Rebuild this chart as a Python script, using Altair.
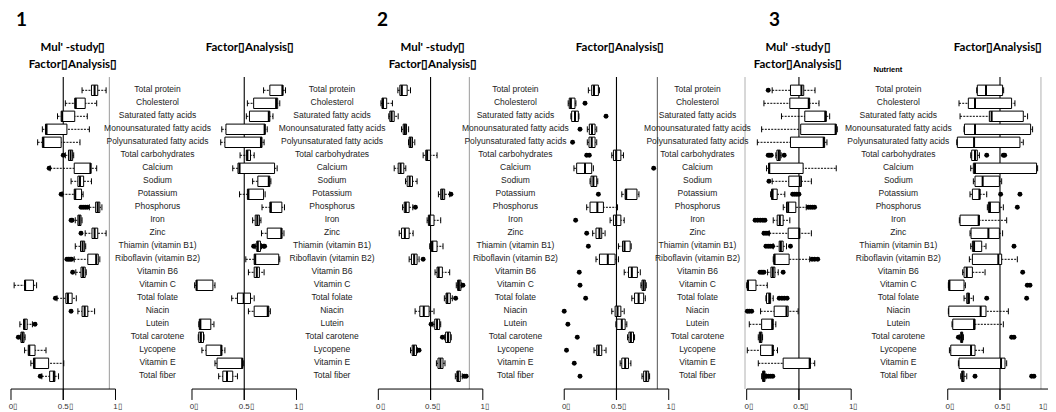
import altair as alt
import pandas as pd

NUTRIENTS = ["Total protein", "Cholesterol", "Saturated fatty acids", "Monounsaturated fatty acids",
             "Polyunsaturated fatty acids", "Total carbohydrates", "Calcium", "Sodium", "Potassium",
             "Phosphorus", "Iron", "Zinc", "Thiamin (vitamin B1)", "Riboflavin (vitamin B2)",
             "Vitamin B6", "Vitamin C", "Total folate", "Niacin", "Lutein", "Total carotene",
             "Lycopene", "Vitamin E", "Total fiber"]

BOXCH = "\u25AF"
TICK_VALUES = [0, 0.5, 1]
TICK_LABELS = ["0" + BOXCH, "0.5" + BOXCH, "1" + BOXCH]
FIG_NUMBERS = ["1", "2", "3"]
TITLE_MSFA = ["Mul' -study" + BOXCH, "Factor" + BOXCH + "Analysis" + BOXCH]
TITLE_FA = "Factor" + BOXCH + "Analysis" + BOXCH

# (lower whisker, Q1, median, Q3, upper whisker) per nutrient
p1_msfa = [(0.68, 0.77, 0.80, 0.83, 0.91), (0.52, 0.61, 0.62, 0.71, 0.82), (0.445, 0.48, 0.49, 0.61, 0.73),
           (0.30, 0.33, 0.34, 0.535, 0.75), (0.255, 0.30, 0.31, 0.48, 0.66), (0.52, 0.55, 0.57, 0.59, 0.60),
           (0.375, 0.605, 0.76, 0.765, 0.82), (0.575, 0.64, 0.66, 0.695, 0.77), (0.49, 0.605, 0.615, 0.675, 0.69),
           (0.75, 0.81, 0.83, 0.85, 0.87), (0.615, 0.64, 0.655, 0.67, 0.68), (0.71, 0.775, 0.80, 0.83, 0.91),
           (0.615, 0.665, 0.685, 0.705, 0.715), (0.605, 0.735, 0.815, 0.835, 0.85), (0.62, 0.67, 0.69, 0.71, 0.72),
           (0.03, 0.13, 0.135, 0.215, 0.245), (0.44, 0.525, 0.545, 0.585, 0.625), (0.64, 0.68, 0.705, 0.735, 0.80),
           (0.085, 0.12, 0.13, 0.155, 0.205), (0.09, 0.095, 0.11, 0.125, 0.135), (0.13, 0.165, 0.175, 0.23, 0.335),
           (0.19, 0.215, 0.225, 0.36, 0.505), (0.295, 0.37, 0.41, 0.42, 0.455)]
p1_msfa_out = {5: [0.50], 6: [0.365], 8: [0.48], 9: [0.67, 0.69, 0.71, 0.73], 10: [0.575, 0.585],
               11: [0.67], 13: [0.535, 0.55, 0.565, 0.58], 14: [0.59], 16: [0.425], 17: [0.575],
               18: [0.23], 19: [0.07], 22: [0.28]}

p1_fa = [(0.685, 0.745, 0.865, 0.87, 0.895), (0.53, 0.59, 0.805, 0.82, 0.84), (0.52, 0.55, 0.735, 0.745, 0.775),
         (0.285, 0.325, 0.695, 0.70, 0.72), (0.275, 0.315, 0.66, 0.67, 0.69), (0.46, 0.52, 0.53, 0.56, 0.595),
         (0.39, 0.44, 0.455, 0.79, 0.815), (0.58, 0.63, 0.735, 0.745, 0.755), (0.455, 0.53, 0.54, 0.685, 0.70),
         (0.67, 0.745, 0.755, 0.86, 0.885), (0.58, 0.605, 0.625, 0.645, 0.66), (0.665, 0.72, 0.855, 0.86, 0.88),
         (0.605, 0.62, 0.63, 0.655, 0.665), (0.515, 0.595, 0.605, 0.83, 0.84), (0.54, 0.595, 0.62, 0.645, 0.69),
         (0.025, 0.04, 0.045, 0.20, 0.22), (0.38, 0.435, 0.495, 0.56, 0.595), (0.54, 0.595, 0.725, 0.735, 0.75),
         (0.065, 0.07, 0.08, 0.18, 0.21), (0.06, 0.065, 0.085, 0.11, 0.115), (0.095, 0.135, 0.28, 0.285, 0.315),
         (0.22, 0.24, 0.48, 0.485, 0.495), (0.255, 0.295, 0.335, 0.39, 0.435)]
p1_fa_out = {12: [0.59, 0.685, 0.695]}

p2_msfa = [(0.187, 0.206, 0.225, 0.276, 0.308), (0.025, 0.035, 0.045, 0.08, 0.135), (0.10, 0.11, 0.127, 0.152, 0.19),
           (0.222, 0.238, 0.254, 0.27, 0.29), (0.289, 0.295, 0.308, 0.327, 0.349), (0.429, 0.454, 0.467, 0.498, 0.562),
           (0.152, 0.19, 0.213, 0.244, 0.263), (0.26, 0.276, 0.30, 0.327, 0.371), (0.575, 0.597, 0.613, 0.635, 0.683),
           (0.232, 0.248, 0.263, 0.295, 0.33), (0.467, 0.479, 0.492, 0.533, 0.597), (0.20, 0.222, 0.254, 0.295, 0.333),
           (0.492, 0.508, 0.517, 0.562, 0.619), (0.295, 0.317, 0.343, 0.371, 0.39), (0.543, 0.562, 0.578, 0.613, 0.683),
           (0.746, 0.759, 0.771, 0.79, 0.797), (0.632, 0.648, 0.66, 0.689, 0.708), (0.352, 0.397, 0.435, 0.486, 0.533),
           (0.524, 0.54, 0.562, 0.587, 0.597), (0.635, 0.644, 0.667, 0.689, 0.698), (0.308, 0.324, 0.34, 0.365, 0.375),
           (0.556, 0.571, 0.594, 0.619, 0.638), (0.737, 0.752, 0.762, 0.784, 0.803)]
p2_msfa_out = {8: [0.695], 9: [0.355], 13: [0.429], 15: [0.81], 16: [0.74], 18: [0.505], 19: [0.613],
               20: [0.39], 22: [0.822, 0.841]}

p2_fa = [(0.231, 0.263, 0.285, 0.327, 0.337), (0.038, 0.048, 0.064, 0.103, 0.112), (0.064, 0.071, 0.103, 0.135, 0.141),
         (0.221, 0.24, 0.266, 0.295, 0.311), (0.221, 0.237, 0.263, 0.295, 0.311), (0.455, 0.471, 0.497, 0.542, 0.567),
         (0.093, 0.119, 0.199, 0.263, 0.279), (0.247, 0.256, 0.279, 0.311, 0.321), (0.551, 0.583, 0.593, 0.696, 0.715),
         (0.215, 0.247, 0.317, 0.375, 0.51), (0.439, 0.471, 0.497, 0.542, 0.574), (0.272, 0.304, 0.337, 0.359, 0.391),
         (0.519, 0.558, 0.577, 0.631, 0.641), (0.304, 0.337, 0.417, 0.487, 0.519), (0.574, 0.615, 0.647, 0.70, 0.728),
         (0.734, 0.744, 0.76, 0.776, 0.785), (0.647, 0.673, 0.712, 0.76, 0.776), (0.455, 0.487, 0.51, 0.542, 0.574),
         (0.494, 0.503, 0.551, 0.583, 0.599), (0.606, 0.619, 0.638, 0.663, 0.673), (0.285, 0.311, 0.33, 0.359, 0.40),
         (0.535, 0.551, 0.583, 0.615, 0.638), (0.744, 0.76, 0.785, 0.808, 0.817)]
p2_fa_out = {1: [0.199], 2: [0.40], 3: [0.151], 4: [0.08], 5: [0.215, 0.24], 6: [0.856], 8: [0.327],
             10: [0.109], 11: [0.215], 12: [0.231], 14: [0.144], 15: [0.151], 16: [0.205], 17: [0.0],
             18: [0.035], 19: [0.125], 20: [0.022], 21: [0.096], 22: [0.151]}

p3_msfa = [(0.244, 0.419, 0.524, 0.546, 0.654), (0.165, 0.413, 0.594, 0.603, 0.692), (0.333, 0.556, 0.752, 0.762, 0.794),
           (0.143, 0.517, 0.851, 0.857, 0.867), (0.102, 0.419, 0.737, 0.746, 0.768), (0.279, 0.289, 0.308, 0.321, 0.33),
           (0.19, 0.21, 0.216, 0.54, 0.857), (0.244, 0.403, 0.508, 0.524, 0.619), (0.229, 0.238, 0.248, 0.292, 0.365),
           (0.35, 0.381, 0.397, 0.47, 0.57), (0.254, 0.292, 0.317, 0.349, 0.413), (0.216, 0.397, 0.502, 0.508, 0.619),
           (0.254, 0.311, 0.327, 0.349, 0.381), (0.254, 0.26, 0.267, 0.406, 0.603), (0.20, 0.232, 0.25, 0.27, 0.302),
           (0.0, 0.006, 0.013, 0.089, 0.197), (0.184, 0.19, 0.216, 0.229, 0.254), (0.133, 0.263, 0.381, 0.397, 0.492),
           (0.025, 0.143, 0.244, 0.254, 0.279), (0.111, 0.121, 0.133, 0.146, 0.152), (0.006, 0.133, 0.248, 0.254, 0.295),
           (0.111, 0.349, 0.603, 0.61, 0.651), (0.143, 0.152, 0.165, 0.175, 0.184)]
p3_msfa_out = {0: [0.206], 5: [0.206, 0.22, 0.235, 0.359], 7: [0.213], 8: [0.44, 0.46, 0.48, 0.50],
               9: [0.59, 0.61, 0.63, 0.65], 10: [0.08, 0.105, 0.13, 0.155, 0.175], 11: [0.165, 0.185, 0.205],
               12: [0.184, 0.205, 0.225, 0.248, 0.419], 13: [0.625, 0.65, 0.68], 14: [0.127, 0.145, 0.165, 0.349],
               16: [0.311, 0.337, 0.36, 0.387], 17: [0.006, 0.025, 0.048], 22: [0.19, 0.21, 0.23, 0.25]}

p3_fa = [(0.277, 0.283, 0.366, 0.525, 0.535), (0.108, 0.197, 0.261, 0.611, 0.643), (0.118, 0.398, 0.42, 0.723, 0.764),
         (0.156, 0.16, 0.261, 0.793, 0.812), (0.086, 0.092, 0.252, 0.691, 0.723), (0.22, 0.229, 0.261, 0.283, 0.303),
         (0.22, 0.245, 0.261, 0.85, 0.86), (0.245, 0.261, 0.334, 0.494, 0.516), (0.213, 0.236, 0.303, 0.309, 0.373),
         (0.379, 0.389, 0.404, 0.494, 0.532), (0.111, 0.118, 0.296, 0.303, 0.564), (0.213, 0.223, 0.389, 0.494, 0.525),
         (0.22, 0.236, 0.252, 0.325, 0.366), (0.207, 0.236, 0.484, 0.516, 0.666), (0.143, 0.156, 0.182, 0.236, 0.357),
         (0.006, 0.01, 0.016, 0.156, 0.169), (0.156, 0.182, 0.197, 0.207, 0.245), (0.006, 0.01, 0.315, 0.366, 0.58),
         (0.041, 0.048, 0.252, 0.261, 0.532), (0.111, 0.124, 0.134, 0.143, 0.15), (0.016, 0.029, 0.223, 0.261, 0.341),
         (0.102, 0.108, 0.51, 0.548, 0.564), (0.124, 0.134, 0.143, 0.156, 0.182)]
p3_fa_out = {5: [0.373, 0.532, 0.545], 8: [0.506, 0.691], 9: [0.666], 12: [0.634], 14: [0.717],
             15: [0.761, 0.787], 16: [0.373, 0.755], 19: [0.102, 0.611, 0.634], 22: [0.261, 0.803, 0.825]}

PANEL_DATA = [(p1_msfa, p1_msfa_out), (p1_fa, p1_fa_out), (p2_msfa, p2_msfa_out),
              (p2_fa, p2_fa_out), (p3_msfa, p3_msfa_out), (p3_fa, p3_fa_out)]

# ---- layout (global x unit = one unit of the 0-1 scale; y unit = one nutrient row) ----
PANEL_OFFSET = [0.0, 1.732, 3.515, 5.294, 7.040, 8.964]
LABEL_CENTER = [1.402, 3.072, 4.827, 6.569, 8.491]
GRAY_LINES = [0.941, 4.386, 6.185, 7.024, 9.856]
X_DOMAIN = [-0.0287, 9.9234]
Y_DOMAIN = [-6.331, 24.746]
TOP_Y, AXIS_Y, TICK_Y, TICKLAB_Y = -1.02, 22.98, 23.82, 24.35
BOX_H, CAP_H = 0.40, 0.23

xs = alt.Scale(domain=X_DOMAIN, nice=False, zero=False)
ys = alt.Scale(domain=Y_DOMAIN, nice=False, zero=False, reverse=True)

box_rows, out_rows = [], []
for p, (stats, outs) in enumerate(PANEL_DATA):
    off = PANEL_OFFSET[p]
    for i, (lo, q1, md, q3, hi) in enumerate(stats):
        box_rows.append(dict(panel=p, nutrient=NUTRIENTS[i], row=i, lo=off + lo, q1=off + q1,
                             med=off + md, q3=off + q3, hi=off + hi))
    for i, vals in outs.items():
        for v in vals:
            out_rows.append(dict(panel=p, row=i, v=off + v))
boxes = pd.DataFrame(box_rows)
outl = pd.DataFrame(out_rows)

X = lambda f: alt.X(f, scale=xs, axis=None)
Y = lambda f: alt.Y(f, scale=ys, axis=None)

bb = alt.Chart(boxes).transform_calculate(
    yb0=f"datum.row - {BOX_H}", yb1=f"datum.row + {BOX_H}",
    yc0=f"datum.row - {CAP_H}", yc1=f"datum.row + {CAP_H}")

whisk = bb.mark_rule(color="black", strokeWidth=1, strokeDash=[2, 1.2]).encode(
    x=X("lo:Q"), x2="hi:Q", y=Y("row:Q"))
rect = bb.mark_rect(fill="white", stroke="black", strokeWidth=1).encode(
    x=X("q1:Q"), x2="q3:Q", y=Y("yb0:Q"), y2="yb1:Q")
cap_lo = bb.mark_rule(color="black", strokeWidth=1).encode(x=X("lo:Q"), y=Y("yc0:Q"), y2="yc1:Q")
cap_hi = bb.mark_rule(color="black", strokeWidth=1).encode(x=X("hi:Q"), y=Y("yc0:Q"), y2="yc1:Q")
median = bb.mark_rule(color="black", strokeWidth=2).encode(x=X("med:Q"), y=Y("yb0:Q"), y2="yb1:Q")
outs = alt.Chart(outl).mark_point(filled=True, shape="circle", size=24, color="black", opacity=1).encode(
    x=X("v:Q"), y=Y("row:Q"))

# reference lines at 0.5, frame lines, axes
ref = pd.DataFrame(dict(x=[o + 0.5 for o in PANEL_OFFSET], y0=TOP_Y, y1=TICK_Y))
ref_l = alt.Chart(ref).mark_rule(color="black", strokeWidth=1.1).encode(x=X("x:Q"), y=Y("y0:Q"), y2="y1:Q")
gray = pd.DataFrame(dict(x=GRAY_LINES, y0=TOP_Y, y1=AXIS_Y,
                         c=["#9a9a9a", "#9a9a9a", "#555555", "#b0b0b0", "#b0b0b0"]))
gray_l = alt.Chart(gray).mark_rule(strokeWidth=1).encode(
    x=X("x:Q"), y=Y("y0:Q"), y2="y1:Q", color=alt.Color("c:N", scale=None))
axes = pd.DataFrame(dict(x0=PANEL_OFFSET, x1=[o + 1 for o in PANEL_OFFSET], y=AXIS_Y))
axis_l = alt.Chart(axes).mark_rule(color="black", strokeWidth=1).encode(x=X("x0:Q"), x2="x1:Q", y=Y("y:Q"))
ticks = pd.DataFrame([dict(x=o + t, lab=l, y0=AXIS_Y, y1=TICK_Y, yl=TICKLAB_Y)
                      for o in PANEL_OFFSET for t, l in zip(TICK_VALUES, TICK_LABELS)])
tick_l = alt.Chart(ticks).mark_rule(color="black", strokeWidth=1).encode(x=X("x:Q"), y=Y("y0:Q"), y2="y1:Q")
tick_main = ticks.iloc[:-1]
tick_last = ticks.iloc[-1:]
tick_t = alt.Chart(tick_main).mark_text(font="Liberation Sans", fontSize=8, color="#333", align="center",
                                        baseline="middle", dx=2).encode(x=X("x:Q"), y=Y("yl:Q"), text="lab:N")
tick_t2 = alt.Chart(tick_last).mark_text(font="Liberation Sans", fontSize=8, color="#333", align="right",
                                         baseline="middle", dx=-5).encode(x=X("x:Q"), y=Y("yl:Q"), text="lab:N")

# nutrient labels
labs = pd.DataFrame([dict(x=c, row=i, t=n) for c in LABEL_CENTER for i, n in enumerate(NUTRIENTS)])
lab_t = alt.Chart(labs).mark_text(font="Liberation Sans", fontSize=8.5, color="#222", align="center",
                                  baseline="middle", dy=-1).encode(x=X("x:Q"), y=Y("row:Q"), text="t:N")

# titles
nums = pd.DataFrame(dict(x=[0.048, 3.502, 7.254], y=-5.41, t=FIG_NUMBERS))
num_t = alt.Chart(nums).mark_text(font="Lato", fontSize=19, fontWeight="bold", color="black",
                                  align="left", baseline="middle").encode(x=X("x:Q"), y=Y("y:Q"), text="t:N")
subs = pd.DataFrame(
    [dict(x=x, y=-3.25, t=TITLE_MSFA[0]) for x in [0.593, 4.038, 7.531]] +
    [dict(x=x, y=-1.98, t=TITLE_MSFA[1]) for x in [0.593, 4.038, 7.531]] +
    [dict(x=x, y=-3.25, t=TITLE_FA) for x in [2.287, 5.828, 9.445]])
sub_t = alt.Chart(subs).mark_text(font="Lato", fontSize=11.5, fontWeight="bold", color="black",
                                  align="center", baseline="middle").encode(x=X("x:Q"), y=Y("y:Q"), text="t:N")
nut = pd.DataFrame(dict(x=[8.392], y=[-1.56], t=["Nutrient"]))
nut_t = alt.Chart(nut).mark_text(font="Liberation Sans", fontSize=7.5, fontWeight="bold", color="black",
                                 align="center", baseline="middle").encode(x=X("x:Q"), y=Y("y:Q"), text="t:N")

chart = alt.layer(gray_l, ref_l, axis_l, tick_l, tick_t, tick_t2, lab_t, whisk, rect, cap_lo, cap_hi, median,
                  outs, num_t, sub_t, nut_t).properties(
    width=1040, height=404, autosize=alt.AutoSizeParams(type="none"), padding=0
).configure_view(stroke=None)

chart.save("out.html", embed_options={"renderer": "svg", "actions": False})
